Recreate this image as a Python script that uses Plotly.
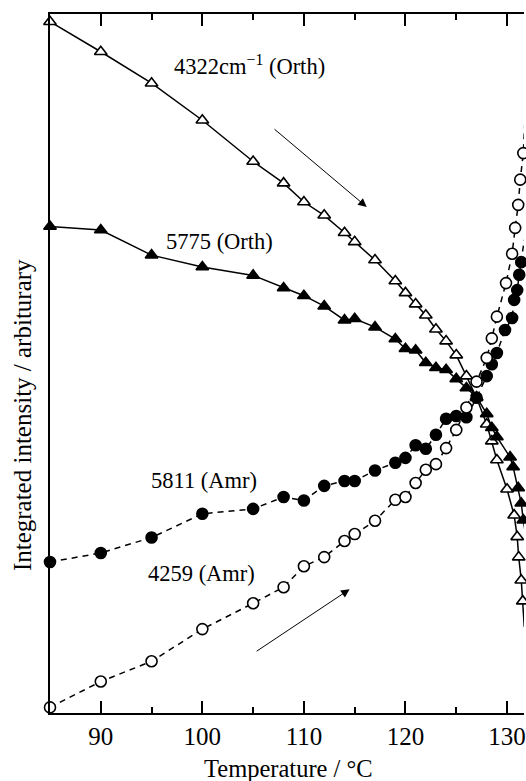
import plotly.graph_objects as go

# Temperatures (°C)
T_base = [85, 90, 95, 100, 105, 108, 110, 112, 114, 115, 117, 119, 120, 121, 122, 123, 124, 125, 126, 127]

# 4322 cm-1 (Orth) - open triangles, solid
T_4322 = T_base + [128, 128.5, 129, 130, 130.7, 131.0, 131.15, 131.4, 131.55, 131.7]
I_4322 = [98.9, 94.6, 90.1, 84.8, 78.9, 75.8, 73.1, 71.2, 68.7, 67.4, 64.8, 61.8, 60.1, 58.5, 56.9, 54.9, 53.2, 51.2, 48.2, 45.1,
          41.3, 38.9, 36.2, 32.0, 28.3, 25.2, 22.3, 19.0, 16.0, 12.3]

# 5775 (Orth) - filled triangles, solid
T_5775 = T_base + [128, 128.5, 129, 130.3, 130.6, 131.1, 131.4, 131.6, 132]
I_5775 = [69.6, 69.1, 65.5, 63.8, 62.6, 60.8, 59.7, 58.2, 56.2, 56.4, 55.2, 53.5, 52.1, 51.9, 50.1, 49.4, 49.1, 47.8, 46.5, 45.2,
          42.8, 40.8, 39.5, 36.6, 35.2, 32.2, 30.0, 27.6, 24.0]

# 5811 (Amr) - filled circles, dashed
T_5811 = T_base + [128, 128.5, 129, 129.8, 130.5, 130.7, 131.0, 131.2, 131.4, 131.7]
I_5811 = [21.6, 22.9, 25.1, 28.5, 29.2, 30.9, 30.4, 32.5, 33.2, 33.2, 34.7, 35.8, 36.5, 38.3, 37.8, 39.8, 42.1, 42.5, 42.3, 45.1,
          48.2, 49.9, 51.5, 54.8, 56.5, 59.1, 60.5, 62.7, 64.5, 67.7]

# 4259 (Amr) - open circles, dashed
T_4259 = T_base + [128, 128.5, 129, 129.9, 130.5, 130.8, 131.1, 131.3, 131.6, 131.75]
I_4259 = [0.8, 4.5, 7.4, 12.0, 15.7, 18.0, 21.0, 22.3, 24.6, 25.6, 27.5, 30.5, 30.9, 32.9, 34.8, 35.6, 37.9, 40.5, 43.7, 47.4,
          50.8, 53.6, 56.7, 61.5, 65.7, 69.4, 72.7, 76.3, 80.1, 84.4]

x_ticks = [90, 100, 110, 120, 130]

FONT = "Liberation Serif"

fig = go.Figure()

def add(xs, ys, symbol, fill, dash, size):
    fig.add_trace(go.Scatter(
        x=xs, y=ys, mode="lines+markers",
        line=dict(color="black", width=1.5, dash=dash),
        marker=dict(symbol=symbol, size=size, color=fill,
                    line=dict(color="black", width=1.6)),
        cliponaxis=False, showlegend=False))

add(T_4322, I_4322, "triangle-up", "white", "solid", 11)
add(T_5775, I_5775, "triangle-up", "black", "solid", 11)
add(T_5811, I_5811, "circle", "black", "6px,5px", 11)
add(T_4259, I_4259, "circle", "white", "6px,5px", 11)

annos = [
    dict(x=104.6, y=92.7, text="4322cm<sup>−1</sup> (Orth)"),
    dict(x=101.7, y=67.4, text="5775 (Orth)"),
    dict(x=100.2, y=33.2, text="5811 (Amr)"),
    dict(x=99.9, y=20.0, text="4259 (Amr)"),
]
for a in annos:
    fig.add_annotation(x=a["x"], y=a["y"], text=a["text"], showarrow=False,
                       xanchor="center", yanchor="middle",
                       font=dict(family=FONT, size=22.5, color="black"))

# arrows
for (x0, y0, x1, y1) in [(106.96, 83.7, 116.18, 72.4), (105.2, 8.7, 114.5, 17.7)]:
    fig.add_annotation(x=x1, y=y1, ax=x0, ay=y0, xref="x", yref="y", axref="x", ayref="y",
                       text="", showarrow=True, arrowhead=2, arrowsize=1.7, arrowwidth=1,
                       arrowcolor="black")

fig.add_annotation(xref="paper", yref="paper", x=(22 - 50) / 476, y=(713 - 415) / 699,
                   xanchor="center", yanchor="middle",
                   text="Integrated intensity / arbiturary", textangle=-90, showarrow=False,
                   font=dict(family=FONT, size=25, color="black"))
fig.add_annotation(xref="paper", yref="paper", x=(290 - 50) / 476, y=-(768 - 713) / 699,
                   xanchor="center", yanchor="middle",
                   text="Temperature / °C", showarrow=False,
                   font=dict(family=FONT, size=24.5, color="black"))

fig.update_layout(
    width=526, height=781,
    margin=dict(l=50, r=0, t=14, b=68),
    paper_bgcolor="white", plot_bgcolor="white",
    xaxis=dict(range=[85, 131.67], tickvals=x_ticks, ticks="inside", ticklen=12, tickwidth=1.5,
               tickcolor="black", showline=True, linecolor="black", linewidth=2, mirror="ticks",
               showgrid=False, zeroline=False, ticklabeloverflow="allow",
               tickfont=dict(family=FONT, size=25, color="black"),
               minor=dict(dtick=5, tick0=85, ticks="inside", ticklen=6, tickwidth=1.5, tickcolor="black", showgrid=False)),
    yaxis=dict(range=[0, 100], showline=True, linecolor="black", linewidth=2, showticklabels=False,
               ticks="", showgrid=False, zeroline=False),
)

fig.write_html("out.html")
